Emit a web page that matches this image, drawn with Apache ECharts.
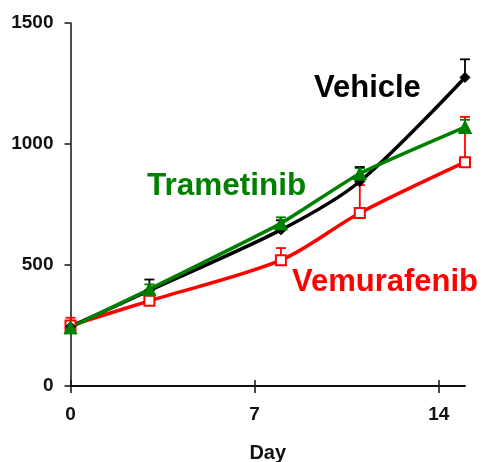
<!DOCTYPE html>
<html>
<head>
<meta charset="utf-8">
<script src="https://cdn.jsdelivr.net/npm/echarts@6/dist/echarts.min.js"></script>
<style>
  html, body { margin: 0; padding: 0; background: #fff; }
  #chart { width: 483px; height: 462px; }
</style>
</head>
<body>
<div id="chart"></div>
<script>
// Tumour volume over time by treatment group
const days = [0, 3, 8, 11, 15];
const vehicle = [245, 395, 645, 845, 1275];
const vehicleErr = [15, 45, 40, 60, 75];
const trametinib = [242, 400, 672, 878, 1070];
const trametinibErr = [10, 20, 25, 22, 30];
const vemurafenib = [250, 352, 520, 715, 925];
const vemurafenibErr = [32, 15, 50, 115, 187];
const xTicks = [0, 7, 14];
const yTicks = [0, 500, 1000, 1500];

const FONT = '"Liberation Sans", Arial, sans-serif';

function pairs(vals) { return days.map((d, i) => [d, vals[i]]); }

// upward-only error bars with a cap
function errorSeries(vals, errs, color) {
  return {
    type: 'custom',
    z: 1,
    silent: true,
    data: days.map((d, i) => [d, vals[i], vals[i] + errs[i]]),
    renderItem: function (params, api) {
      const base = api.coord([api.value(0), api.value(1)]);
      const top = api.coord([api.value(0), api.value(2)]);
      const hw = 5;
      const st = { stroke: color, lineWidth: 1.8 };
      return {
        type: 'group',
        children: [
          { type: 'line', shape: { x1: base[0], y1: base[1], x2: top[0], y2: top[1] }, style: st },
          { type: 'line', shape: { x1: top[0] - hw, y1: top[1], x2: top[0] + hw, y2: top[1] }, style: st }
        ]
      };
    }
  };
}

function lineSeries(name, vals, color, symbol, size, smooth, hollow) {
  return {
    name: name,
    type: 'line',
    z: 3,
    smooth: smooth,
    data: pairs(vals),
    symbol: symbol,
    symbolSize: size,
    showAllSymbol: true,
    lineStyle: { color: color, width: 3.5 },
    itemStyle: hollow
      ? { color: '#fff', borderColor: color, borderWidth: 2 }
      : { color: color, borderColor: color, borderWidth: 1 }
  };
}

const chart = echarts.init(document.getElementById('chart'), null, { renderer: 'canvas' });

chart.setOption({
  animation: false,
  backgroundColor: '#fff',
  grid: { left: 70.5, right: 18, top: 23, bottom: 76, containLabel: false, outerBoundsMode: 'none' },
  xAxis: [{
    type: 'value',
    min: 0,
    max: 15,
    interval: 7,
    name: 'Day',
    nameLocation: 'middle',
    nameGap: 57,
    nameTextStyle: { fontFamily: FONT, fontSize: 20, fontWeight: 'bold', color: '#111' },
    splitLine: { show: false },
    axisLine: { onZero: false, lineStyle: { color: '#111', width: 2 } },
    axisTick: { length: 7, customValues: xTicks, lineStyle: { color: '#111', width: 1.5 } },
    axisLabel: { customValues: xTicks, margin: 19, fontFamily: FONT, fontSize: 19, fontWeight: 'bold', color: '#111' }
  }, {
    // inward half of the crossing ticks on the day axis
    type: 'value',
    position: 'bottom',
    min: 0,
    max: 15,
    interval: 7,
    splitLine: { show: false },
    axisLine: { show: false },
    axisTick: { inside: true, length: 6, customValues: xTicks, lineStyle: { color: '#111', width: 1.5 } },
    axisLabel: { show: false }
  }],
  yAxis: {
    type: 'value',
    min: 0,
    max: 1500,
    interval: 500,
    splitLine: { show: false },
    axisLine: { show: true, onZero: false, lineStyle: { color: '#111', width: 1.5 } },
    axisTick: { show: true, length: 6, customValues: yTicks, lineStyle: { color: '#111', width: 1.5 } },
    axisLabel: {
      customValues: yTicks, margin: 17, fontFamily: FONT, fontSize: 19, fontWeight: 'bold', color: '#111',
      formatter: v => String(v)
    }
  },
  series: [
    errorSeries(vemurafenib, vemurafenibErr, '#ff0000'),
    errorSeries(trametinib, trametinibErr, '#008000'),
    errorSeries(vehicle, vehicleErr, '#000000'),
    lineSeries('Vemurafenib', vemurafenib, '#ff0000', 'rect', 10, 0.3, true),
    lineSeries('Vehicle', vehicle, '#000000', 'diamond', 10, 0.3, false),
    lineSeries('Trametinib', trametinib, '#008000', 'triangle', 13, 0.15, false)
  ],
  graphic: [
    { type: 'text', left: 314, top: 73, z: 10,
      style: { text: 'Vehicle', fill: '#000000', font: 'bold 31px ' + FONT } },
    { type: 'text', left: 147, top: 170, z: 10,
      style: { text: 'Trametinib', fill: '#008000', font: 'bold 31.5px ' + FONT } },
    { type: 'text', left: 292, top: 267, z: 10,
      style: { text: 'Vemurafenib', fill: '#ff0000', font: 'bold 31px ' + FONT } }
  ]
});
</script>
</body>
</html>
